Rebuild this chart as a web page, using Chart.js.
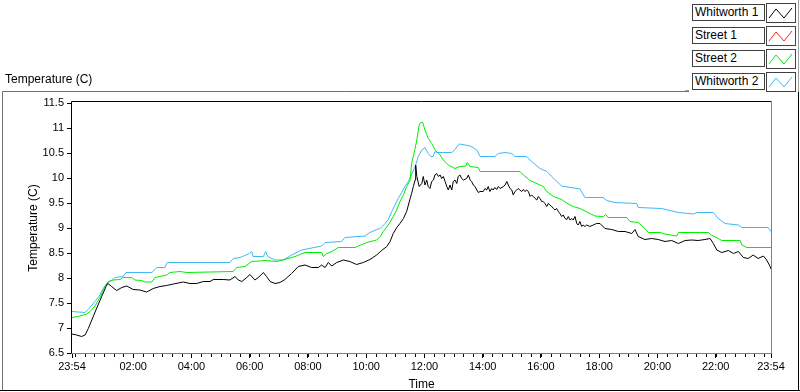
<!DOCTYPE html>
<html>
<head>
<meta charset="utf-8">
<script src="https://cdn.jsdelivr.net/npm/chart.js@4.4.1/dist/chart.umd.min.js"></script>
<style>
  html, body { margin:0; padding:0; background:#fff; }
  #wrap { position:relative; width:800px; height:392px; overflow:hidden; font-family:"Liberation Sans", Arial, sans-serif; }
  #c { position:absolute; left:0; top:0; }
  .plotname { position:absolute; left:5px; top:72px; font-size:12px; color:#000; }
  .lt { position:absolute; left:692px; width:69px; height:15px; border:1px solid #404040; background:#fff; font-size:12px; line-height:15px; padding-left:2px; color:#000; white-space:nowrap; }
  .li { position:absolute; left:766px; width:28px; height:18px; border:1px solid #404040; background:#fff; }
  .li svg { position:absolute; left:0; top:0; }
</style>
</head>
<body>
<div id="wrap">
  <canvas id="c" width="800" height="392"></canvas>
  <div class="plotname">Temperature (C)</div>
  <div id="legend"></div>
</div>
<script>
// ---- data (hours since 23:54, temperature in C) ----
const seriesNames = ['Whitworth 1', 'Street 1', 'Street 2', 'Whitworth 2'];
const seriesColors = ['#000000', '#ff2020', '#00ee00', '#40b8f8'];

const xTickHours = [0, 2.1, 4.1, 6.1, 8.1, 10.1, 12.1, 14.1, 16.1, 18.1, 20.1, 22.1, 24];
const xTickLabels = ['23:54','02:00','04:00','06:00','08:00','10:00','12:00','14:00','16:00','18:00','20:00','22:00','23:54'];

const w1Hours = [
  0,0.16,0.33,0.45,0.56,0.68,0.85,1.02,1.17,1.23,
  1.36,1.53,1.71,1.88,2.10,2.33,2.56,2.79,3.02,3.25,
  3.48,3.82,4.05,4.28,4.51,4.74,4.85,5.19,5.42,5.60,
  5.71,5.83,6.00,6.11,6.28,6.40,6.57,6.68,6.80,6.97,
  7.14,7.31,7.54,7.77,8.00,8.23,8.46,8.57,8.69,8.80,
  8.92,9.09,9.32,9.54,9.77,10.00,10.23,10.46,10.63,10.81,
  10.92,11.03,11.15,11.26,11.38,11.49,11.61,11.66,11.72,11.78,
  11.80,11.84,11.92,12.01,12.06,12.12,12.18,12.23,12.29,12.35,
  12.41,12.46,12.52,12.58,12.64,12.69,12.75,12.81,12.87,12.92,
  12.98,13.04,13.09,13.15,13.21,13.26,13.32,13.38,13.44,13.55,
  13.61,13.67,13.72,13.78,13.84,13.90,13.95,14.01,14.12,14.18,
  14.24,14.29,14.35,14.41,14.46,14.52,14.58,14.64,14.70,14.81,
  14.87,14.93,14.98,15.04,15.10,15.15,15.21,15.27,15.32,15.38,
  15.44,15.50,15.55,15.61,15.67,15.73,15.78,15.84,15.90,15.96,
  16.01,16.07,16.13,16.18,16.24,16.30,16.35,16.41,16.47,16.53,
  16.58,16.64,16.70,16.75,16.81,16.87,16.93,16.99,17.04,17.10,
  17.16,17.21,17.27,17.33,17.38,17.44,17.50,17.55,17.61,17.67,
  17.78,17.90,18.01,18.13,18.30,18.53,18.76,18.99,19.22,19.33,
  19.44,19.67,19.90,20.13,20.36,20.59,20.82,21.05,21.28,21.50,
  21.73,21.91,22.02,22.14,22.31,22.54,22.71,22.88,23.05,23.22,
  23.39,23.56,23.74,23.85,23.97,24.00
];
const w1Temps = [
  6.88,6.86,6.83,6.86,6.99,7.16,7.40,7.63,7.83,7.89,
  7.83,7.75,7.81,7.84,7.77,7.76,7.72,7.79,7.83,7.85,
  7.88,7.92,7.89,7.89,7.93,7.93,7.97,7.97,7.96,8.03,
  7.96,7.93,8.01,8.07,7.96,8.01,8.11,8.03,7.93,7.89,
  7.91,7.97,8.09,8.23,8.26,8.21,8.21,8.26,8.21,8.31,
  8.24,8.31,8.36,8.33,8.27,8.31,8.37,8.46,8.55,8.63,
  8.73,8.89,9.01,9.09,9.19,9.33,9.59,9.69,9.83,9.96,
  10.26,10.03,9.83,9.89,10.03,9.86,9.96,9.83,9.79,9.93,
  9.96,10.06,10.09,10.03,10.06,9.99,10.03,9.93,9.83,9.76,
  9.86,9.76,9.93,9.96,9.89,10.03,10.06,9.99,9.96,9.99,
  10.06,9.96,9.93,9.86,9.83,9.76,9.71,9.73,9.73,9.79,
  9.76,9.83,9.73,9.79,9.76,9.81,9.77,9.83,9.79,9.83,
  9.86,9.93,9.86,9.79,9.76,9.66,9.73,9.76,9.79,9.76,
  9.73,9.77,9.73,9.76,9.73,9.63,9.66,9.63,9.59,9.56,
  9.63,9.59,9.53,9.53,9.49,9.43,9.49,9.46,9.43,9.39,
  9.36,9.39,9.33,9.29,9.23,9.26,9.19,9.17,9.23,9.16,
  9.19,9.16,9.23,9.09,9.06,9.13,9.03,9.06,9.03,9.06,
  9.03,9.06,9.09,9.09,8.99,8.97,8.93,8.93,8.89,8.97,
  8.83,8.77,8.79,8.77,8.73,8.75,8.69,8.75,8.76,8.75,
  8.77,8.79,8.69,8.56,8.51,8.55,8.49,8.53,8.41,8.39,
  8.46,8.39,8.44,8.36,8.23,8.18
];

const s1Hours = [];
const s1Temps = [];

const s2Hours = [
  0,0.27,0.50,0.62,0.79,0.96,1.13,1.25,1.42,1.65,
  1.76,2.05,2.16,2.39,2.51,2.74,2.85,3.25,3.36,3.71,
  3.94,5.54,5.65,5.94,6.17,6.63,7.03,7.31,7.66,8.00,
  8.57,8.63,8.75,8.92,9.14,9.72,9.83,10.12,10.46,10.58,
  10.69,10.86,11.03,11.15,11.26,11.38,11.49,11.61,11.66,11.78,
  11.84,11.92,11.97,12.04,12.12,12.23,12.35,12.47,12.64,12.75,
  12.92,13.15,13.32,13.53,13.57,13.67,13.95,14.01,15.38,15.50,
  15.73,16.18,16.30,16.53,16.81,17.04,17.21,17.44,17.96,18.24,
  18.32,18.41,19.05,19.16,19.44,19.67,19.79,20.19,20.36,20.76,
  20.82,21.85,21.96,22.19,22.31,22.94,23.00,23.17,24.00
];
const s2Temps = [
  7.21,7.24,7.28,7.33,7.44,7.61,7.83,7.93,7.96,7.97,
  8.01,8.01,7.96,7.95,7.92,7.92,8.01,8.06,8.11,8.13,
  8.11,8.13,8.21,8.23,8.33,8.35,8.33,8.37,8.43,8.51,
  8.51,8.43,8.49,8.53,8.61,8.61,8.64,8.71,8.76,8.83,
  8.93,9.06,9.23,9.36,9.53,9.66,9.83,9.96,10.29,10.59,
  10.76,11.06,11.11,11.11,10.96,10.79,10.69,10.56,10.46,10.36,
  10.26,10.19,10.23,10.24,10.31,10.23,10.21,10.13,10.13,10.06,
  9.95,9.83,9.73,9.63,9.57,9.48,9.43,9.39,9.24,9.23,
  9.27,9.21,9.21,9.13,9.11,8.99,8.91,8.91,8.88,8.84,
  8.91,8.91,8.86,8.79,8.75,8.75,8.66,8.61,8.61
];

const w2Hours = [
  0,0.45,0.62,0.79,0.96,1.07,1.19,1.36,1.48,1.76,
  1.85,2.74,2.85,2.91,3.19,3.27,5.42,5.54,5.77,6.09,
  6.17,6.22,6.57,6.65,6.72,6.97,7.25,7.54,7.89,8.57,
  8.69,9.26,9.37,10.06,10.23,10.46,10.58,10.75,10.86,10.98,
  11.09,11.20,11.32,11.43,11.55,11.78,11.89,12.01,12.12,12.23,
  12.32,12.40,12.46,12.52,13.04,13.15,13.26,13.32,13.67,13.90,
  14.01,14.52,14.64,14.87,15.10,15.21,15.61,15.78,16.07,16.30,
  16.47,16.81,17.44,17.61,18.24,18.36,18.64,19.39,19.44,20.25,
  20.82,21.34,21.45,22.02,22.19,22.42,22.88,23.00,23.90,24.00
];
const w2Temps = [
  7.33,7.31,7.41,7.53,7.66,7.79,7.89,7.95,8.01,8.03,
  8.11,8.11,8.17,8.21,8.21,8.31,8.31,8.39,8.41,8.49,
  8.53,8.43,8.43,8.53,8.43,8.36,8.36,8.46,8.56,8.64,
  8.71,8.73,8.81,8.84,8.91,8.97,8.99,9.09,9.17,9.33,
  9.46,9.59,9.71,9.83,9.93,10.23,10.43,10.56,10.61,10.49,
  10.43,10.43,10.53,10.51,10.51,10.57,10.66,10.68,10.64,10.56,
  10.43,10.43,10.49,10.51,10.49,10.43,10.43,10.33,10.19,10.13,
  10.03,9.84,9.78,9.61,9.61,9.55,9.51,9.49,9.41,9.39,
  9.31,9.28,9.31,9.31,9.19,9.09,9.06,9.01,9.01,8.93
];

// ---- build ----
function pts(xs, ys) {
  if (xs.length !== ys.length) throw new Error('length mismatch ' + xs.length + ' vs ' + ys.length);
  return xs.map((x, i) => ({ x: x, y: ys[i] }));
}
const seriesData = [pts(w1Hours, w1Temps), pts(s1Hours, s1Temps), pts(s2Hours, s2Temps), pts(w2Hours, w2Temps)];
const datasets = seriesNames.map((n, i) => ({
  label: n, data: seriesData[i], borderColor: seriesColors[i], backgroundColor: seriesColors[i],
  borderWidth: 1, pointRadius: 0, tension: 0, fill: false, order: i
}));

const FONT = '"Liberation Sans", Arial, sans-serif';

const framePlugin = {
  id: 'frame',
  beforeDraw(chart) {
    const ctx = chart.ctx;
    ctx.save();
    ctx.fillStyle = '#fff';
    ctx.fillRect(0, 0, chart.width, chart.height);
    ctx.restore();
  },
  afterDraw(chart) {
    const ctx = chart.ctx;
    const a = chart.chartArea;
    const xs = chart.scales.x;
    ctx.save();
    ctx.lineWidth = 1;
    ctx.strokeStyle = '#000';
    ctx.beginPath();
    ctx.moveTo(Math.round(a.left) - 0.5, Math.round(a.bottom) + 0.5);
    ctx.lineTo(Math.round(a.left) - 0.5, Math.round(a.top) - 1.5);
    ctx.lineTo(Math.round(a.right) + 0.5, Math.round(a.top) - 1.5);
    ctx.stroke();
    ctx.strokeStyle = '#808080';
    ctx.beginPath();
    ctx.moveTo(Math.round(a.right) + 0.5, Math.round(a.top) - 1.5);
    ctx.lineTo(Math.round(a.right) + 0.5, Math.round(a.bottom) + 0.5);
    ctx.lineTo(Math.round(a.left) - 0.5, Math.round(a.bottom) + 0.5);
    ctx.stroke();
    // minor ticks every 20 minutes from 00:00
    ctx.strokeStyle = '#000';
    ctx.beginPath();
    for (let k = 0; k < 72; k++) {
      const h = 0.1 + k / 3;
      if (h > 24) break;
      const px = Math.round(xs.getPixelForValue(h)) + 0.5;
      ctx.moveTo(px, Math.round(a.bottom) + 1);
      ctx.lineTo(px, Math.round(a.bottom) + 4);
    }
    ctx.stroke();
    // outer panel frame
    ctx.strokeStyle = '#707070';
    ctx.beginPath();
    ctx.moveTo(2.5, 391);
    ctx.lineTo(2.5, 91.5);
    ctx.lineTo(689, 91.5);
    ctx.stroke();
    ctx.strokeStyle = '#000';
    ctx.beginPath();
    ctx.moveTo(0, 390.5);
    ctx.lineTo(800, 390.5);
    ctx.moveTo(798.5, 92);
    ctx.lineTo(798.5, 391);
    ctx.stroke();
    ctx.strokeStyle = '#a0a0a0';
    ctx.beginPath();
    ctx.moveTo(798.5, 0);
    ctx.lineTo(798.5, 92);
    ctx.moveTo(685, 90.5);
    ctx.lineTo(689, 90.5);
    ctx.stroke();
    ctx.restore();
  }
};

new Chart(document.getElementById('c'), {
  type: 'line',
  data: { datasets: datasets },
  plugins: [framePlugin],
  options: {
    responsive: false,
    animation: false,
    devicePixelRatio: 1,
    layout: { padding: { left: 0, top: 103, right: 29, bottom: 0 } },
    plugins: { legend: { display: false }, tooltip: { enabled: false }, title: { display: false } },
    scales: {
      x: {
        type: 'linear', min: 0, max: 24,
        afterBuildTicks: (s) => { s.ticks = xTickHours.map(v => ({ value: v })); },
        afterFit: (s) => { s.height = 39; },
        ticks: { autoSkip: false, maxRotation: 0, minRotation: 0, padding: 2, color: '#000',
                 font: { family: FONT, size: 11 },
                 callback: (v, i) => xTickLabels[i] },
        grid: { drawOnChartArea: false, drawTicks: true, tickLength: 5, tickColor: '#000' },
        border: { display: false },
        title: { display: true, text: 'Time', color: '#000', font: { family: FONT, size: 12 }, padding: { top: 0, bottom: 0 } }
      },
      y: {
        min: 6.5, max: 11.5,
        afterFit: (s) => { s.width = 72; },
        ticks: { stepSize: 0.5, padding: 3, color: '#000', font: { family: FONT, size: 11 },
                 callback: (v) => String(Math.round(v * 10) / 10) },
        grid: { drawOnChartArea: false, drawTicks: true, tickLength: 5, tickColor: '#000' },
        border: { display: false },
        title: { display: true, text: 'Temperature (C)', color: '#000', font: { family: FONT, size: 12 }, padding: { top: 26, bottom: 0 } }
      }
    }
  }
});

// legend boxes (text + line sample)
const leg = document.getElementById('legend');
seriesNames.forEach((n, i) => {
  const t = document.createElement('div');
  t.className = 'lt';
  t.style.top = (4 + 23 * i) + 'px';
  t.textContent = n;
  leg.appendChild(t);
  const b = document.createElement('div');
  b.className = 'li';
  b.style.top = (3 + 23 * i) + 'px';
  b.innerHTML = '<svg width="28" height="18"><polyline points="2,14 9,5 17,14 25,4" fill="none" stroke="' + seriesColors[i] + '" stroke-width="1"/></svg>';
  leg.appendChild(b);
});
</script>
</body>
</html>
